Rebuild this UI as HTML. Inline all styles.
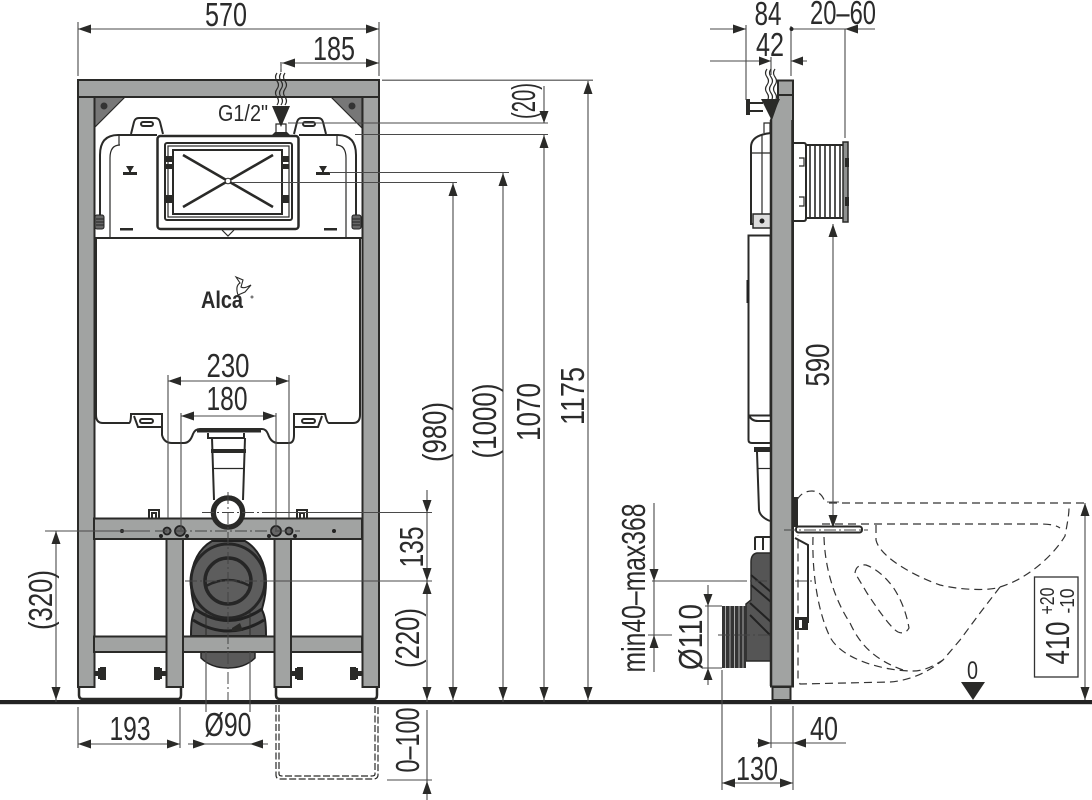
<!DOCTYPE html>
<html><head><meta charset="utf-8"><style>
html,body{margin:0;padding:0;background:#fff}
svg{display:block}
text{font-family:"Liberation Sans",sans-serif;fill:#2b2b2b}
.d{stroke:#4a4a4a;stroke-width:1.1;fill:none}
.k{stroke:#2a2a28;stroke-width:2;fill:none}
.t{stroke:#2a2a28;stroke-width:1.2;fill:none}
.f{stroke:#2a2a28;stroke-width:2;fill:#a1a3a2}
.a{fill:#2a2a28;stroke:none}
.c{stroke:#444;stroke-width:1;fill:none;stroke-dasharray:12 3 2 3}
.p{stroke:#333;stroke-width:1.2;fill:none;stroke-dasharray:8 5}
</style></head><body>
<svg width="1092" height="800" viewBox="0 0 1092 800" xmlns="http://www.w3.org/2000/svg">
<rect width="1092" height="800" fill="#fff"/>

<!-- FRONT VIEW -->
<!-- cistern upper -->
<path class="k" d="M100 222V155Q100 135 118 135H157M356 222V155Q356 135 338 135H299"/>
<path class="t" d="M110 238V158Q110 145 120 145M346 238V158Q346 145 336 145M119 135V145M337 135V145"/>
<path class="k" stroke-width="1.600" d="M131 134L134 122Q135 118 139 118H155Q159 118 160 122L163 134M294 134L297 122Q298 118 302 118H318Q322 118 323 122L326 134"/>
<rect x="141" y="122" width="12" height="4" rx="2" class="k" stroke-width="1.500"/><rect x="303" y="122" width="12" height="4" rx="2" class="k" stroke-width="1.500"/>
<path class="a" d="M126 166h8l-3 5v1h6v3h-14v-3h6v-1zM319 166h8l-3 5v1h6v3h-14v-3h6v-1z"/>
<rect x="120" y="228" width="13" height="2.5" class="a"/><rect x="324" y="228" width="13" height="2.5" class="a"/>
<rect x="95" y="215" width="9" height="14" rx="2" fill="#666" stroke="#222"/><rect x="352" y="215" width="9" height="14" rx="2" fill="#666" stroke="#222"/>
<path d="M96 219H104M96 222H104M96 225H104M352 219H360M352 222H360M352 225H360" stroke="#222" stroke-width="1"/>
<path class="k" d="M94 238H362"/>
<path d="M125 97H94V128ZM331 97H362V128Z" fill="#777" stroke="#2a2a28" stroke-width="1.2"/>
<circle cx="104" cy="106" r="3.5" fill="#333"/><circle cx="352" cy="106" r="3.5" fill="#333"/>
<!-- flush panel -->
<rect x="157.500" y="136" width="141" height="93" rx="3" fill="#fff" stroke="#2a2a28" stroke-width="2.500"/>
<rect x="165" y="143" width="127" height="77" rx="2" class="k"/>
<rect x="168" y="146" width="121" height="71" class="t"/>
<rect x="173" y="150" width="109" height="64" class="k"/>
<path class="a" d="M166 156h7v6h-7zM166 164h7v5h-7zM166 195h7v8h-7zM282 156h7v6h-7zM282 164h7v5h-7zM282 195h7v8h-7z"/>
<path d="M183 155L273 207M273 155L183 207" stroke="#2a2a28" stroke-width="2.600" fill="none"/>
<circle cx="228" cy="181" r="2.800" fill="#fff" stroke="#2a2a28"/>
<path class="t" d="M222 230L228 236L234 230"/>
<!-- valve -->
<path class="a" d="M271 136L275 132H287L291 136Z"/>
<path class="t" d="M276 133V124H286V133"/>
<!-- lower cistern outline -->
<path class="k" stroke-width="2.400" d="M96 238V415Q96 423 103 423H129Q131 423 131 414H162V435Q164 443 172 443H184Q190 443 193 434Q195 429 200 429H262Q266 429 268 434Q271 443 278 443H289Q294 443 294 435V414H325Q327 423 329 423H353Q360 423 360 415V238"/>
<path class="k" d="M134 416L138 427H162M322 416L318 427H294"/>
<rect x="140" y="419" width="13" height="4" rx="2" class="k" stroke-width="1.500"/><rect x="302" y="419" width="13" height="4" rx="2" class="k" stroke-width="1.500"/>
<!-- flush pipe -->
<rect x="197" y="429" width="64" height="3.500" class="a"/>
<path class="k" d="M208 433V438H244V433"/>
<path class="k" d="M212 438L214 500M245 438L243 500"/>
<rect x="211" y="449" width="35" height="4" class="a"/>
<path class="t" d="M213 468.500H244"/>
<!-- frame -->
<rect x="78" y="96" width="16.500" height="591" class="f"/>
<rect x="362.500" y="96" width="16.500" height="591" class="f"/>
<rect x="78" y="80" width="301" height="17" class="f" stroke-width="2.500"/>
<!-- connector body -->
<path d="M191 582C191 562 200 548 212 541H245C257 548 266 562 266 582C266 600 262 606 262 610C265 616 266 622 266 636H191C191 622 192 616 195 610C195 606 191 600 191 582Z" fill="#5a5a5a" stroke="#222" stroke-width="2"/>
<path d="M201 652H255V658Q245 668 228 668Q211 668 201 658Z" fill="#5a5a5a" stroke="#222" stroke-width="1.500"/>
<path d="M195 609Q228 632 262 609M193 620Q228 642 264 620" stroke="#222" stroke-width="3" fill="none"/>
<path d="M206 600V636M250 600V636" stroke="#2a2a28" stroke-width="1"/>
<path class="a" d="M232 628l8 -5l3 8h-11z"/>
<circle cx="228" cy="581" r="37" fill="#5d5d5d" stroke="#262626" stroke-width="3"/>
<circle cx="228" cy="581" r="23" fill="none" stroke="#262626" stroke-width="3.500"/>
<path d="M206 586Q228 574 250 586" stroke="#262626" stroke-width="2.500" fill="none"/>
<path d="M209 540L214 529H243L248 540Z" fill="#333"/>
<path d="M214 539L217 534L220 539ZM236 539L239 534L242 539Z" fill="#fff"/>
<!-- rails and inner posts -->
<rect x="94" y="518.500" width="268" height="20.500" class="f"/>
<rect x="94" y="636.500" width="268" height="15.500" class="f" stroke-width="1.800"/>
<rect x="166.500" y="539" width="16.500" height="148" class="f"/>
<rect x="274.500" y="539" width="16.500" height="148" class="f"/>
<!-- rail holes -->
<circle cx="122" cy="531" r="2" fill="#222"/><circle cx="334" cy="531" r="2" fill="#222"/>
<circle cx="167" cy="531" r="3.500" fill="#666" stroke="#222" stroke-width="1.800"/><circle cx="289" cy="531" r="3.500" fill="#666" stroke="#222" stroke-width="1.800"/>
<circle cx="180" cy="531" r="5" fill="#666" stroke="#222" stroke-width="1.800"/><circle cx="276" cy="531" r="5" fill="#666" stroke="#222" stroke-width="1.800"/>
<circle cx="161" cy="536" r="2" fill="#222"/><circle cx="187" cy="536" r="2" fill="#222"/><circle cx="269" cy="536" r="2" fill="#222"/><circle cx="295" cy="536" r="2" fill="#222"/>
<path class="k" stroke-width="1.500" d="M149 518V510H159V518M152 518V513H156V518M297 518V510H307V518M300 518V513H304V518"/>
<circle cx="228" cy="512.500" r="14.500" fill="#fff" stroke="#2a2a28" stroke-width="5"/>
<circle cx="228" cy="512.500" r="16.800" fill="none" stroke="#2a2a28" stroke-width="1"/>
<!-- feet -->
<path d="M79 687V695Q79 699 83 699H178Q181 699 181 695V687M276 687V695Q276 699 280 699H374Q377 699 377 695V687" stroke="#2a2a28" stroke-width="2.500" fill="none"/>
<path class="a" d="M94 671h4v-3h2v-1h6v13h-6v-1h-2v-3h-4zM166 671h-4v-3h-2v-1h-6v13h6v-1h2v-3h4zM291 671h4v-3h2v-1h6v13h-6v-1h-2v-3h-4zM362 671h-4v-3h-2v-1h-6v13h6v-1h2v-3h4z"/>
<!-- ground -->
<rect x="0" y="700" width="1092" height="4.200" fill="#232323"/>
<!-- dashed box -->
<path class="t" stroke-dasharray="7 2.500" d="M276 705V775Q276 779 280 779H373Q378 779 378 775V705M279 705V774Q279 776 282 776H372Q375 776 375 774V705"/>

<!-- front centre lines -->
<path class="c" d="M228 492V700M202 512.500H270M155 531H300M185 581H270"/>
<path class="d" d="M270 512.500H432M260 581H432M45 531H150M387 780H432"/>
<!-- front dims -->
<path class="d" d="M78 29H379M78 22V76M379 22V76M282 63H379M281 62V72"/>
<path class="a" d="M78 29l13 -4.500v9zM379 29l-13 -4.500v9zM282 63l13 -4.500v9zM379 63l-13 -4.500v9z"/>
<path class="d" d="M382 80.200H593M288 123H548M355 134.500H548M329 172.500H509M232 182.500H457"/>
<path class="d" d="M588 81V702M544 135V702M503 173V702M453 183V702M544 86V123M427 490V702M427 710V800M56 531V702"/>
<path class="a" d="M588 81l-4.500 13h9zM588 700l-4.500 -13h9zM544 135l-4.500 13h9zM544 700l-4.500 -13h9zM503 173l-4.500 13h9zM503 700l-4.500 -13h9zM453 183l-4.500 13h9zM453 700l-4.500 -13h9zM544 123l-4.500 -12h9zM427 513l-4.500 -13h9zM427 581l-4.500 13h9zM427 581l-4.500 -13h9zM427 700l-4.500 -13h9zM427 781l-4.500 13h9zM56 700l-4.500 -13h9zM56 531l-4.500 13h9z"/>
<path class="d" d="M168 375V518M289 375V518M181 413V530M276 413V530M168 381H289M181 416H276"/>
<path class="a" d="M168 381l13 -4.500v9zM289 381l-13 -4.500v9zM181 416l13 -4.500v9zM276 416l-13 -4.500v9z"/>
<path class="d" d="M78 707V748M180 707V748M78 744H180M206 652V712M250 652V712M188 744H268"/>
<path class="a" d="M78 744l13 -4.500v9zM180 744l-13 -4.500v9zM206 744l-13 -4.500v9zM250 744l13 -4.500v9z"/>
<!-- waves / arrow -->
<path class="t" fill="none" d="M277 73q-3 4 0 8t0 8t0 8t0 8M281 73q-3 4 0 8t0 8t0 8t0 8M285 73q-3 4 0 8t0 8t0 8t0 8"/>
<path class="a" d="M272 106H290L281 127Z"/>
<path class="d" stroke-dasharray="4 3" d="M281 62V72"/>
<!-- labels front -->
<text x="226" y="26" font-size="33" text-anchor="middle" textLength="42" lengthAdjust="spacingAndGlyphs">570</text>
<text x="334" y="60" font-size="33" text-anchor="middle" textLength="42" lengthAdjust="spacingAndGlyphs">185</text>
<text x="243" y="121" font-size="23" text-anchor="middle" textLength="50" lengthAdjust="spacingAndGlyphs">G1/2"</text>
<text x="228" y="377" font-size="33" text-anchor="middle" textLength="43" lengthAdjust="spacingAndGlyphs">230</text>
<text x="227" y="410" font-size="33" text-anchor="middle" textLength="41" lengthAdjust="spacingAndGlyphs">180</text>
<text x="130" y="740" font-size="33" text-anchor="middle" textLength="41" lengthAdjust="spacingAndGlyphs">193</text>
<text x="228" y="736" font-size="33" text-anchor="middle" textLength="47" lengthAdjust="spacingAndGlyphs">Ø90</text>
<text transform="translate(584,396) rotate(-90)" font-size="33" text-anchor="middle" textLength="58" lengthAdjust="spacingAndGlyphs">1175</text>
<text transform="translate(540,412) rotate(-90)" font-size="33" text-anchor="middle" textLength="58" lengthAdjust="spacingAndGlyphs">1070</text>
<text transform="translate(496,421) rotate(-90)" font-size="33" text-anchor="middle" textLength="75" lengthAdjust="spacingAndGlyphs">(1000)</text>
<text transform="translate(446,432) rotate(-90)" font-size="33" text-anchor="middle" textLength="60" lengthAdjust="spacingAndGlyphs">(980)</text>
<text transform="translate(535,101) rotate(-90)" font-size="33" text-anchor="middle" textLength="36" lengthAdjust="spacingAndGlyphs">(20)</text>
<text transform="translate(423,547) rotate(-90)" font-size="33" text-anchor="middle" textLength="41" lengthAdjust="spacingAndGlyphs">135</text>
<text transform="translate(419,638) rotate(-90)" font-size="33" text-anchor="middle" textLength="60" lengthAdjust="spacingAndGlyphs">(220)</text>
<text transform="translate(419,740) rotate(-90)" font-size="33" text-anchor="middle" textLength="65" lengthAdjust="spacingAndGlyphs">0–100</text>
<text transform="translate(52,600) rotate(-90)" font-size="33" text-anchor="middle" textLength="60" lengthAdjust="spacingAndGlyphs">(320)</text>
<!-- Alca logo -->
<text x="201" y="308" font-size="24" font-weight="bold" textLength="42" lengthAdjust="spacingAndGlyphs" fill="#222">Alca</text>
<path d="M236 277L243 280L241 287Q244 289 251 285L245 292L238 295Q235 286 240 283Z" fill="#fff" stroke="#2a2a28" stroke-width="1.100"/>
<circle cx="252" cy="297" r="1.500" fill="#777"/>

<!-- SIDE VIEW -->
<!-- ribbed sleeve on wall -->
<path class="k" d="M794 143H804Q806 143 806 146V218Q806 221 804 221H794"/>
<rect x="806" y="145" width="38" height="73" fill="#fff" stroke="#2a2a28" stroke-width="2"/>
<path d="M810 145V218M815 145V218M820 145V218M825 145V218M830 145V218M835 145V218M840 145V218" stroke="#2a2a28" stroke-width="1.600" fill="none"/>
<rect x="843" y="142" width="5" height="80" fill="#8f9190" stroke="#2a2a28" stroke-width="1.500"/>
<rect x="845" y="158" width="4" height="9" class="a"/><rect x="845" y="197" width="4" height="9" class="a"/>
<path class="t" stroke-width="1.800" d="M799 158H804V166H799M799 197H804V206H799"/>
<!-- cistern side -->
<path class="k" d="M771 133Q751 135 751 147V224H770"/>
<path class="t" d="M764 133V123H770V133M752 153H770M762 135V214"/>
<rect x="753" y="214" width="18" height="14" fill="#ddd" stroke="#2a2a28" stroke-width="1.500"/>
<circle cx="762" cy="221" r="2.500" fill="#222"/>
<rect x="748.500" y="235.500" width="22" height="180" fill="#fff" stroke="#2a2a28" stroke-width="2"/>
<path d="M748 280V303" stroke="#222" stroke-width="3"/>
<path class="k" d="M748.500 415V440Q748.500 443 752 443H770M749 415Q751 421 758 421H770"/>
<rect x="754" y="447" width="17" height="5" class="a"/>
<path class="k" stroke-width="1.500" d="M757 452L759 510Q760 517 770 521"/>
<path class="t" d="M758 468.500H771"/>
<path class="k" d="M755 550V538Q755 537 757 537H771M763 537V550"/>
<!-- side connector -->
<path d="M771 553H757Q751 554 751 562V600L746 604V661H771Z" fill="#555" stroke="#2a2a28" stroke-width="1.500"/>
<path d="M751 575L771 592M751 585L771 602M750 603L771 622M750 615L771 636" stroke="#222" stroke-width="2" fill="none"/>
<rect x="722" y="606" width="24" height="62" fill="#333"/>
<path d="M725.500 606V668M730 606V668M734.500 606V668M739 606V668M743 606V668" stroke="#aaa" stroke-width="1"/>
<path class="c" d="M735 581H815M718 635H785"/>
<!-- side frame -->
<path d="M778 80.500H793V686.500H771V120L778 100Z" fill="#a1a3a2" stroke="#2a2a28" stroke-width="2"/>
<path d="M778 95H793" stroke="#2a2a28" stroke-width="2"/>
<path d="M792.500 120V686" stroke="#2a2a28" stroke-width="2.500"/>
<path d="M771 120V686" stroke="#2a2a28" stroke-width="2.500"/>
<rect x="772.500" y="687" width="18" height="13" class="f" stroke-width="1.800"/>
<path class="a" d="M746 99H750V102H763V104H750V110H763V112H750V115H746Z"/>
<!-- bracket on wall -->
<rect x="793" y="497" width="5" height="30" class="a"/>
<path class="k" stroke-width="1.600" d="M795 538L808 545V622H795"/>
<path class="a" d="M795 617H808V630H795Z"/>
<rect x="799" y="620" width="3" height="8" fill="#fff"/>
<rect x="796" y="526.500" width="66" height="6" rx="2.500" fill="#fff" stroke="#2a2a28" stroke-width="2"/>
<path class="c" d="M784 530H868"/>
<!-- toilet dashes -->
<g class="p">
<path class="p" d="M829 503H1085"/>
<path class="p" d="M797 500Q802 491 812 491Q821 491 825 502"/>
<path class="p" d="M822 524H1040Q1055 524 1060 528"/>
<path class="p" d="M876 525V540C880 558 917 577 940 585C960 590 990 591 1000 587C1030 578 1055 553 1065 536C1067 525 1069 515 1069 508"/>
<path class="p" d="M1000 587L980 613L960 640L943 660C925 675 905 681 890 682L800 684L798 680V535"/>
<path class="p" d="M813 537C812 570 817 610 830 637C842 660 885 671 913 671C925 671 935 665 943 660"/>
<path class="p" d="M824 537C825 570 835 600 850 623C860 645 875 660 903 670"/>
<path class="p" d="M855 573Q856 564 866 565Q880 570 893 587Q905 605 909 628Q905 635 898 632Q890 628 867 593Z"/>
</g>
<!-- side dims -->
<path class="d" d="M710 29H746M791 29H875M746 25V100M791 26V76M845 29V138"/>
<circle cx="791.500" cy="29" r="2" fill="#222"/>
<path class="a" d="M746 29l-13 -4.500v9zM845 29l13 -4.500v9z"/>
<path class="d" d="M710 61H771M791 61H807M771 57V75"/>
<path class="a" d="M771 61l-12 -4.500v9zM791 61l12 -4.500v9z"/>
<path class="t" d="M767 69q-3 4 0 8t0 8t0 8t0 8M771 69q-3 4 0 8t0 8t0 8t0 8M775 69q-3 4 0 8t0 8t0 8t0 8"/>
<path class="a" d="M761 99H780L771 119Z"/>
<path class="d" d="M833 224V527M827 502H839M654 503V672M648 635H672M652 581H735M708 585V685M705 606H722M703 668H722M722 670V790M771 706V748M793 706V790"/>
<path class="a" d="M833 224l-4.500 13h9zM833 528l-4.500 -13h9zM654 581l-4.500 -12h9zM654 635l-4.500 13h9zM708 606l-4.500 -12h9zM708 668l-4.500 12h9z"/>
<path class="d" d="M757 743H846M722 783H793"/>
<path class="a" d="M771 743l-13 -4.500v9zM793 743l13 -4.500v9zM722 783l13 -4.500v9zM793 783l-13 -4.500v9z"/>
<path class="d" d="M1085 503V700"/>
<path class="a" d="M1085 503l-4.500 13h9zM1085 700l-4.500 -13h9zM961 682H985L973 700Z"/>
<rect x="1034.500" y="577" width="43.500" height="100" fill="#fff" stroke="#333" stroke-width="1.300"/>
<!-- side labels -->
<text x="768" y="25" font-size="33" text-anchor="middle" textLength="27" lengthAdjust="spacingAndGlyphs">84</text>
<text x="843" y="24" font-size="33" text-anchor="middle" textLength="66" lengthAdjust="spacingAndGlyphs">20–60</text>
<text x="770" y="56" font-size="33" text-anchor="middle" textLength="28" lengthAdjust="spacingAndGlyphs">42</text>
<text x="824" y="740" font-size="33" text-anchor="middle" textLength="28" lengthAdjust="spacingAndGlyphs">40</text>
<text x="757" y="780" font-size="33" text-anchor="middle" textLength="42" lengthAdjust="spacingAndGlyphs">130</text>
<text transform="translate(829,365) rotate(-90)" font-size="33" text-anchor="middle" textLength="43" lengthAdjust="spacingAndGlyphs">590</text>
<text transform="translate(645,588) rotate(-90)" font-size="33" text-anchor="middle" textLength="169" lengthAdjust="spacingAndGlyphs">min40–max368</text>
<text transform="translate(702,637) rotate(-90)" font-size="33" text-anchor="middle" textLength="66" lengthAdjust="spacingAndGlyphs">Ø110</text>
<text transform="translate(1069,643) rotate(-90)" font-size="33" text-anchor="middle" textLength="43" lengthAdjust="spacingAndGlyphs">410</text>
<text transform="translate(1054,601) rotate(-90)" font-size="20" text-anchor="middle" textLength="27" lengthAdjust="spacingAndGlyphs">+20</text>
<text transform="translate(1074,601) rotate(-90)" font-size="20" text-anchor="middle" textLength="25" lengthAdjust="spacingAndGlyphs">-10</text>
<text x="972.500" y="679" font-size="25" text-anchor="middle" textLength="11" lengthAdjust="spacingAndGlyphs">0</text>
</svg>
</body></html>
